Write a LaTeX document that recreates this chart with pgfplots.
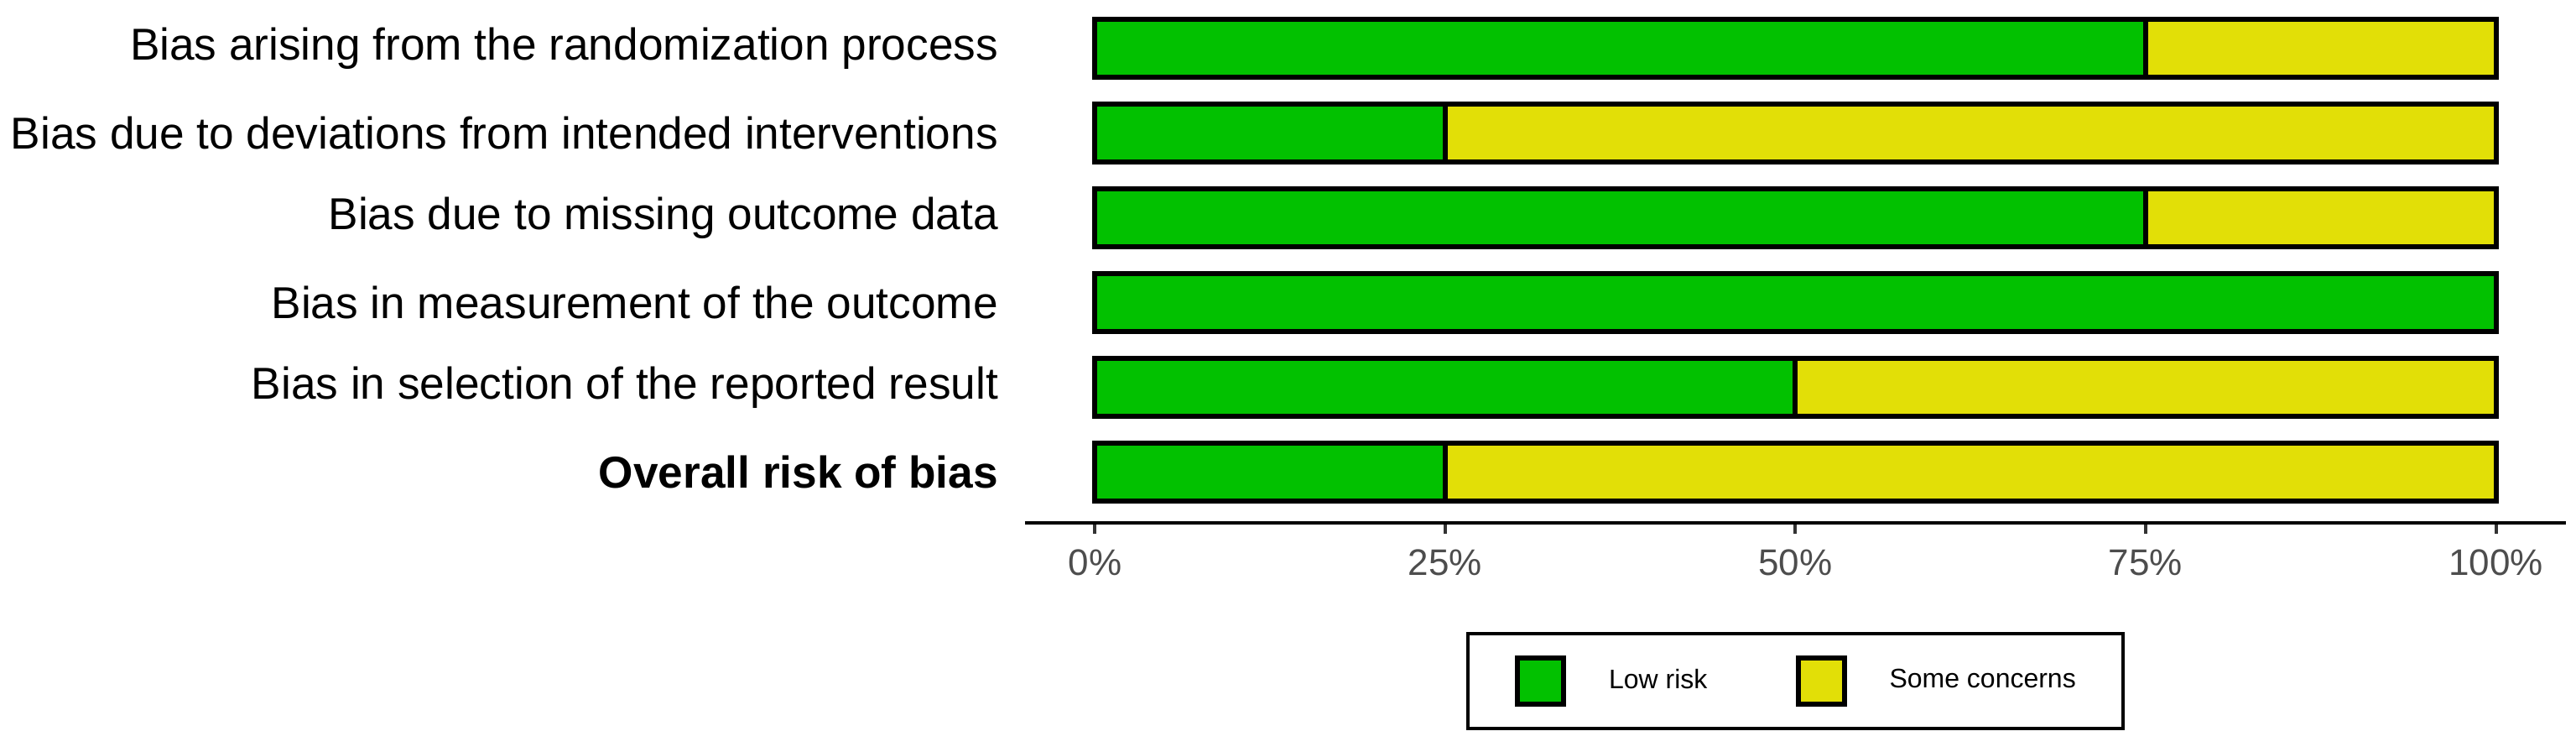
\documentclass[border=0pt]{standalone}
\usepackage{pgfplots}
\pgfplotsset{compat=1.18}
\usepackage{fontspec}
\setmainfont{Liberation Sans}
\definecolor{lowrisk}{HTML}{02C100}
\definecolor{somec}{HTML}{E2DF07}
\definecolor{grey30}{HTML}{4D4D4D}
\definecolor{grey20}{HTML}{333333}
\begin{document}
\begin{tikzpicture}
\path[use as bounding box] (-305.5pt,-68.1pt) rectangle (462.25pt,155.75pt);
\begin{axis}[
  at={(0pt,0pt)}, anchor=south west,
  scale only axis,
  width=459.25pt, height=156.5pt,
  xbar stacked,
  bar width=0.69,
  xmin=-5, xmax=105,
  ymin=0.4, ymax=6.6,
  axis x line*=bottom,
  axis y line*=left,
  x axis line style={-, line width=1pt, black},
  y axis line style={draw=none},
  xtick={0,25,50,75,100},
  xticklabels={0\%,25\%,50\%,75\%,100\%},
  x tick style={draw=grey20, line width=1pt},
  y tick style={draw=none},
  tick align=outside,
  major tick length=3.3pt,
  x tick label style={font=\fontsize{11}{13}\selectfont, text=grey30, inner sep=0pt, anchor=north, yshift=-4.5pt},
  ytick={1,2,3,4,5,6},
  yticklabels={\textbf{Overall risk of bias},
    Bias in selection of the reported result,
    Bias in measurement of the outcome,
    Bias due to missing outcome data,
    Bias due to deviations from intended interventions,
    Bias arising from the randomization process},
  y tick label style={font=\fontsize{13.3}{15}\selectfont, text=black, inner sep=0pt, anchor=east, xshift=-4.5pt},
  clip=false,
  legend columns=2,
  legend image code/.code={\draw[#1, line width=1.5pt] (0pt,-6.875pt) rectangle (13.75pt,6.875pt);},
  legend style={
    at={(0.5,0)}, anchor=north, yshift=-32.5pt,
    draw=black, line width=1pt,
    inner xsep=14pt, inner ysep=6.5pt,
    font=\fontsize{8}{9.6}\selectfont,
    nodes={inner sep=0pt, anchor=west},
    /tikz/every odd column/.append style={column sep=12.75pt},
    /tikz/every even column/.append style={column sep=26.25pt},
  },
]
\addplot[draw=black, line width=1.5pt, fill=lowrisk] coordinates {
  (25,1) (50,2) (100,3) (75,4) (25,5) (75,6)};
\addlegendentry{Low risk}
\addplot[draw=black, line width=1.5pt, fill=somec] coordinates {
  (75,1) (50,2) (0,3) (25,4) (75,5) (25,6)};
\addlegendentry{Some concerns}
\end{axis}
\end{tikzpicture}
\end{document}
